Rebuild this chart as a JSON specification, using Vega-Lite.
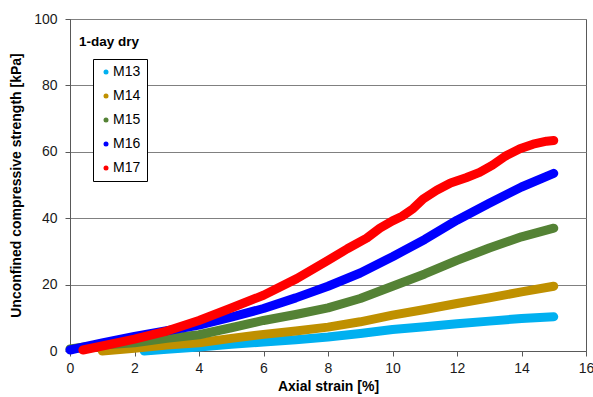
{
  "$schema": "https://vega.github.io/schema/vega-lite/v6.json",
  "width": 516,
  "height": 332,
  "autosize": "none",
  "padding": {"left": 70, "top": 19, "right": 7, "bottom": 46},
  "background": "white",
  "config": {
    "font": "Liberation Sans",
    "view": {"stroke": "#595959", "strokeWidth": 1},
    "axis": {
      "domainColor": "#595959",
      "tickColor": "#595959",
      "tickSize": 5,
      "labelFlush": false,
      "labelFont": "Liberation Sans",
      "labelFontSize": 14,
      "labelColor": "#1a1a1a",
      "titleFont": "Liberation Sans",
      "titleFontSize": 14,
      "titleFontWeight": "bold",
      "titleColor": "#000000",
      "gridColor": "#808080",
      "gridWidth": 1,
      "gridOpacity": 1
    }
  },
  "layer": [
    {
      "data": {
        "values": [
          {"series": "M13", "strain": 2.3, "ucs": 0.0},
          {"series": "M13", "strain": 3.0, "ucs": 0.5},
          {"series": "M13", "strain": 4.0, "ucs": 1.2},
          {"series": "M13", "strain": 5.0, "ucs": 2.0},
          {"series": "M13", "strain": 6.0, "ucs": 2.7},
          {"series": "M13", "strain": 7.0, "ucs": 3.4},
          {"series": "M13", "strain": 8.0, "ucs": 4.2},
          {"series": "M13", "strain": 9.0, "ucs": 5.3},
          {"series": "M13", "strain": 10.0, "ucs": 6.5},
          {"series": "M13", "strain": 11.0, "ucs": 7.3},
          {"series": "M13", "strain": 12.0, "ucs": 8.2},
          {"series": "M13", "strain": 13.0, "ucs": 9.0},
          {"series": "M13", "strain": 14.0, "ucs": 9.8},
          {"series": "M13", "strain": 15.0, "ucs": 10.3},
          {"series": "M14", "strain": 1.0, "ucs": 0.0},
          {"series": "M14", "strain": 2.0, "ucs": 0.8},
          {"series": "M14", "strain": 3.0, "ucs": 1.8},
          {"series": "M14", "strain": 4.0, "ucs": 2.5},
          {"series": "M14", "strain": 5.0, "ucs": 3.8},
          {"series": "M14", "strain": 6.0, "ucs": 5.0},
          {"series": "M14", "strain": 7.0, "ucs": 6.0},
          {"series": "M14", "strain": 8.0, "ucs": 7.2},
          {"series": "M14", "strain": 9.0, "ucs": 8.8},
          {"series": "M14", "strain": 10.0, "ucs": 10.8},
          {"series": "M14", "strain": 11.0, "ucs": 12.5},
          {"series": "M14", "strain": 12.0, "ucs": 14.3},
          {"series": "M14", "strain": 13.0, "ucs": 16.0},
          {"series": "M14", "strain": 14.0, "ucs": 17.8},
          {"series": "M14", "strain": 15.0, "ucs": 19.5},
          {"series": "M15", "strain": 0.0, "ucs": 0.6},
          {"series": "M15", "strain": 0.5, "ucs": 1.3},
          {"series": "M15", "strain": 1.0, "ucs": 1.8},
          {"series": "M15", "strain": 2.0, "ucs": 2.5},
          {"series": "M15", "strain": 3.0, "ucs": 3.8},
          {"series": "M15", "strain": 4.0, "ucs": 4.9},
          {"series": "M15", "strain": 5.0, "ucs": 7.0},
          {"series": "M15", "strain": 6.0, "ucs": 9.2},
          {"series": "M15", "strain": 7.0, "ucs": 11.0},
          {"series": "M15", "strain": 8.0, "ucs": 13.0},
          {"series": "M15", "strain": 9.0, "ucs": 15.8},
          {"series": "M15", "strain": 10.0, "ucs": 19.5},
          {"series": "M15", "strain": 11.0, "ucs": 23.2},
          {"series": "M15", "strain": 12.0, "ucs": 27.3},
          {"series": "M15", "strain": 13.0, "ucs": 31.0},
          {"series": "M15", "strain": 14.0, "ucs": 34.4},
          {"series": "M15", "strain": 15.0, "ucs": 37.0},
          {"series": "M16", "strain": 0.0, "ucs": 0.3},
          {"series": "M16", "strain": 0.5, "ucs": 1.4},
          {"series": "M16", "strain": 1.0, "ucs": 2.4},
          {"series": "M16", "strain": 2.0, "ucs": 4.4},
          {"series": "M16", "strain": 3.0, "ucs": 6.1},
          {"series": "M16", "strain": 4.0, "ucs": 7.8},
          {"series": "M16", "strain": 5.0, "ucs": 10.2},
          {"series": "M16", "strain": 6.0, "ucs": 12.8},
          {"series": "M16", "strain": 7.0, "ucs": 16.0},
          {"series": "M16", "strain": 8.0, "ucs": 19.5},
          {"series": "M16", "strain": 9.0, "ucs": 23.5},
          {"series": "M16", "strain": 10.0, "ucs": 28.4},
          {"series": "M16", "strain": 11.0, "ucs": 33.6},
          {"series": "M16", "strain": 12.0, "ucs": 39.4},
          {"series": "M16", "strain": 13.0, "ucs": 44.5},
          {"series": "M16", "strain": 14.0, "ucs": 49.4},
          {"series": "M16", "strain": 15.0, "ucs": 53.5},
          {"series": "M17", "strain": 0.4, "ucs": 0.3},
          {"series": "M17", "strain": 1.0, "ucs": 1.5},
          {"series": "M17", "strain": 2.0, "ucs": 3.6},
          {"series": "M17", "strain": 3.0, "ucs": 6.0},
          {"series": "M17", "strain": 4.0, "ucs": 9.2},
          {"series": "M17", "strain": 4.96, "ucs": 12.8},
          {"series": "M17", "strain": 6.0, "ucs": 16.8},
          {"series": "M17", "strain": 7.03, "ucs": 21.8},
          {"series": "M17", "strain": 8.0, "ucs": 27.3},
          {"series": "M17", "strain": 8.6, "ucs": 30.8},
          {"series": "M17", "strain": 9.2, "ucs": 34.0},
          {"series": "M17", "strain": 9.61, "ucs": 37.0},
          {"series": "M17", "strain": 10.0, "ucs": 39.2},
          {"series": "M17", "strain": 10.3, "ucs": 40.6},
          {"series": "M17", "strain": 10.64, "ucs": 42.9},
          {"series": "M17", "strain": 10.95, "ucs": 45.8},
          {"series": "M17", "strain": 11.37, "ucs": 48.4},
          {"series": "M17", "strain": 11.8, "ucs": 50.6},
          {"series": "M17", "strain": 12.28, "ucs": 52.2},
          {"series": "M17", "strain": 12.7, "ucs": 53.8},
          {"series": "M17", "strain": 13.1, "ucs": 56.0},
          {"series": "M17", "strain": 13.5, "ucs": 58.7},
          {"series": "M17", "strain": 13.95, "ucs": 60.9},
          {"series": "M17", "strain": 14.36, "ucs": 62.3},
          {"series": "M17", "strain": 14.78, "ucs": 63.2},
          {"series": "M17", "strain": 15.0, "ucs": 63.4}
        ]
      },
      "mark": {"type": "line", "strokeWidth": 9, "strokeCap": "round", "strokeJoin": "round"},
      "encoding": {
        "x": {
          "field": "strain",
          "type": "quantitative",
          "scale": {"domain": [0, 16], "nice": false},
          "axis": {
            "title": "Axial strain [%]",
            "values": [0, 2, 4, 6, 8, 10, 12, 14, 16],
            "grid": false,
            "labelPadding": 5,
            "titlePadding": 4
          }
        },
        "y": {
          "field": "ucs",
          "type": "quantitative",
          "scale": {"domain": [0, 100], "nice": false},
          "axis": {
            "title": "Unconfined compressive strength [kPa]",
            "values": [0, 20, 40, 60, 80, 100],
            "grid": true,
            "labelPadding": 8,
            "titlePadding": 10
          }
        },
        "color": {
          "field": "series",
          "type": "nominal",
          "scale": {
            "domain": ["M13", "M14", "M15", "M16", "M17"],
            "range": ["#00B0F0", "#BF9000", "#548235", "#0000FF", "#FF0000"]
          },
          "legend": {
            "title": null,
            "orient": "none",
            "legendX": 23,
            "legendY": 40,
            "padding": 6,
            "strokeColor": "#000000",
            "fillColor": "#ffffff",
            "symbolType": "circle",
            "symbolSize": 25,
            "symbolStrokeWidth": 0,
            "symbolOffset": 0,
            "labelOffset": 0,
            "labelFontSize": 14,
            "labelColor": "#000000",
            "rowPadding": 10,
            "encode": {
              "symbols": {"update": {"fill": {"scale": "color", "field": "value"}, "fillOpacity": {"value": 1}}}
            }
          }
        }
      }
    },
    {
      "data": {"values": [{"note": "1-day dry"}]},
      "mark": {"type": "text", "align": "left", "baseline": "alphabetic", "fontWeight": "bold", "fontSize": 13.5, "font": "Liberation Sans", "color": "#000000"},
      "encoding": {
        "x": {"datum": 0.28},
        "y": {"datum": 91.8},
        "text": {"field": "note", "type": "nominal"}
      }
    }
  ]
}
